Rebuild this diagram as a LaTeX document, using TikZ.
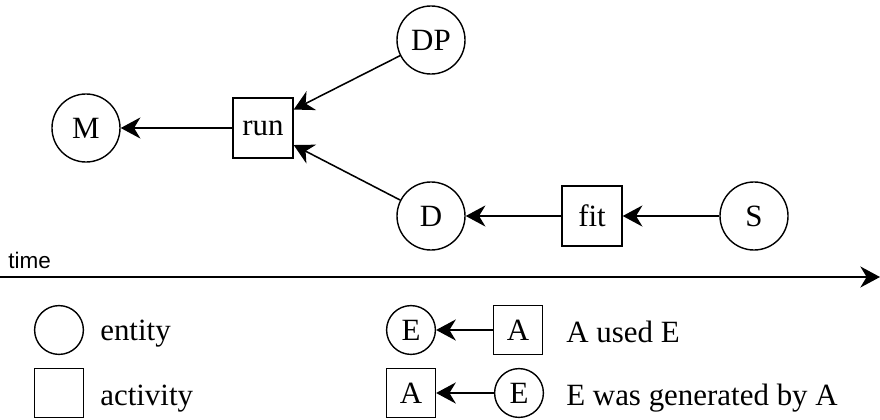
\documentclass[tikz,border=0pt]{standalone}
\usepackage{fontspec}
\setmainfont{Liberation Serif}
\newfontfamily\timefont{Liberation Sans}
\usetikzlibrary{arrows.meta}
\begin{document}
\begin{tikzpicture}[x=0.025cm, y=-0.025cm,
        every node/.style={font=\fontsize{22}{26}\selectfont},
        entity/.style={draw, circle, line width=1pt, minimum size=1.7cm, inner sep=0pt},
        activity/.style={draw, rectangle, line width=1pt, minimum size=1.5cm, inner sep=0pt},
        small/.style={minimum size=1.22cm},
        link/.style={line width=1.1pt, -{Stealth[length=14pt, width=15pt, inset=4.5pt]}}]

        \useasboundingbox (0,0) rectangle (880,420);

        % Graph
        \node[entity] (M) at (86,128) {M};
        \node[activity] (run) at (263,128) {run};
        \node[entity] (DP) at (431,40) {DP};
        \node[entity] (D) at (431,216) {D};
        \node[activity] (fit) at (592,216) {fit};
        \node[entity] (S) at (754,216) {S};

        \draw[link] (run) -- (M);
        \draw[link] (DP) -- (run.31);
        \draw[link] (D) -- (run.-29);
        \draw[link] (fit) -- (D);
        \draw[link] (S) -- (fit);

        % Time axis
        \coordinate (t0) at (0,277);
        \coordinate (t1) at (880,277);
        \draw[link] (t0) -- (t1);
        \node[font=\timefont\fontsize{16}{19}\selectfont, anchor=base west, inner sep=0pt] (time) at (8,268) {time};

        % Legend
        \node[entity, small] (lent) at (59,330) {};
        \node[anchor=base west, inner sep=0pt] at (100,340) {entity};
        \node[activity, small] (lact) at (59,393) {};
        \node[anchor=base west, inner sep=0pt] at (100,405) {activity};

        \node[entity, small] (ue) at (411,330) {E};
        \node[activity, small] (ua) at (518,330) {A};
        \draw[link] (ua) -- (ue);
        \node[anchor=base west, inner sep=0pt] at (566,342) {A used E};

        \node[activity, small] (ga) at (411,393) {A};
        \node[entity, small] (ge) at (519,393) {E};
        \draw[link] (ge) -- (ga);
        \node[anchor=base west, inner sep=0pt] at (566,405) {E was generated by A};

\end{tikzpicture}
\end{document}
